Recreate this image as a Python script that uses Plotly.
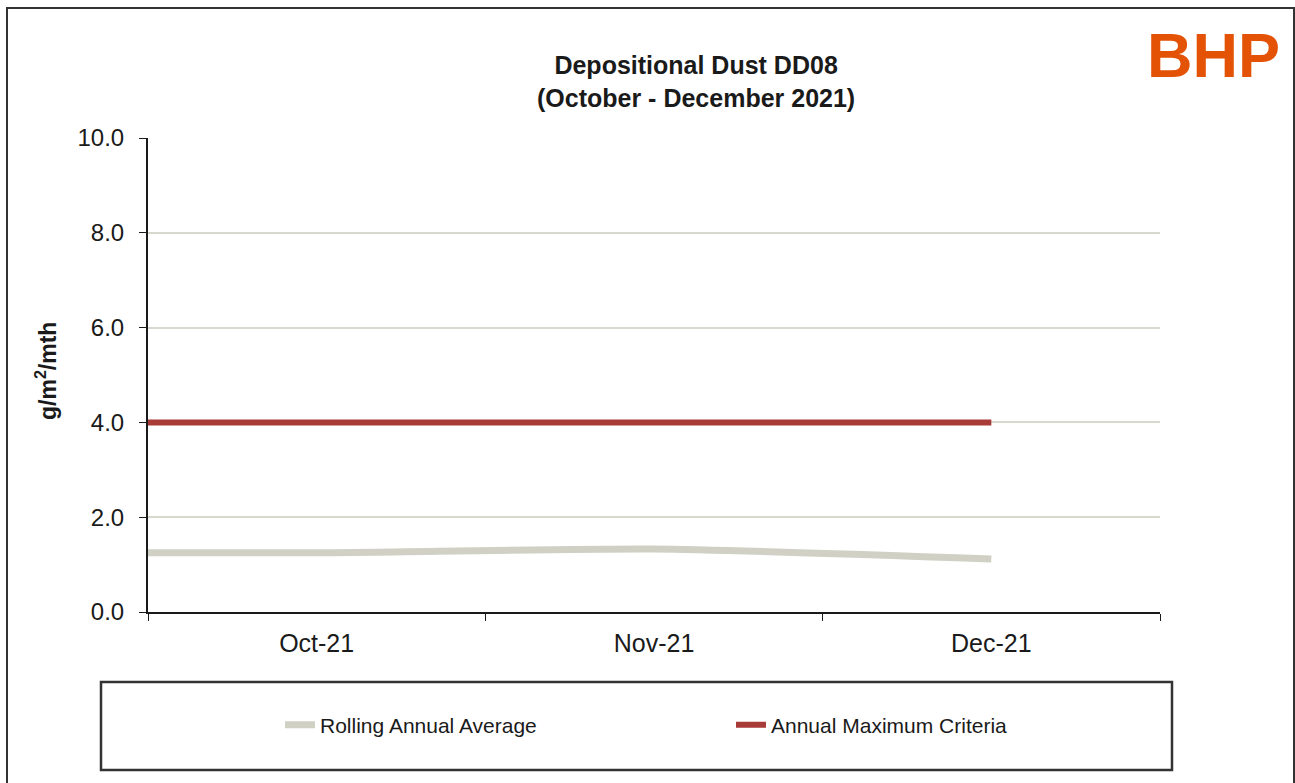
import plotly.graph_objects as go

# Monthly depositional dust results (g/m²/mth); Sep-21 lies just left of the visible window
months = ["Sep-21", "Oct-21", "Nov-21", "Dec-21"]
rolling_annual_average = [1.25, 1.25, 1.33, 1.12]
annual_maximum_criteria = [4.0, 4.0, 4.0, 4.0]

y_ticks = [0, 2, 4, 6, 8, 10]

W, H = 1295, 783
L, R, T, B = 148, 135, 138, 171
PW, PH = W - L - R, H - T - B


def px(x):
    return (x - L) / PW


def py(y):
    return (H - B - y) / PH


fig = go.Figure()
fig.add_trace(go.Scatter(
    x=months, y=rolling_annual_average, name="Rolling Annual Average",
    mode="lines", line=dict(color="#D0D1C4", width=7, shape="spline", smoothing=0.6),
))
fig.add_trace(go.Scatter(
    x=months, y=annual_maximum_criteria, name="Annual Maximum Criteria",
    mode="lines", line=dict(color="#A83A38", width=6),
))

fig.update_layout(
    width=W, height=H,
    margin=dict(l=L, r=R, t=T, b=B, pad=0),
    paper_bgcolor="white", plot_bgcolor="white",
    font=dict(family="Arial, Liberation Sans, sans-serif", color="#1a1a1a"),
    showlegend=True,
    legend=dict(
        orientation="h", x=px(280), y=py(725), xanchor="left", yanchor="middle",
        entrywidth=406, entrywidthmode="pixels",
        font=dict(size=21, color="#1a1a1a"),
        bgcolor="rgba(0,0,0,0)", itemwidth=30, tracegroupgap=0,
    ),
    xaxis=dict(
        type="category", categoryorder="array", categoryarray=months,
        range=[0.5, 3.5], tickson="boundaries", ticks="outside", ticklen=7,
        tickcolor="#1a1a1a", showline=True, linecolor="#1a1a1a", linewidth=2,
        showgrid=False, zeroline=False,
        tickfont=dict(size=25, color="#1a1a1a"), ticklabelstandoff=8,
    ),
    yaxis=dict(
        range=[0, 10], tickvals=y_ticks, tickformat=".1f", ticks="outside",
        ticklen=7, tickcolor="#1a1a1a", showline=True, linecolor="#1a1a1a",
        linewidth=2, showgrid=True, gridcolor="#D8D8CE", gridwidth=1.5,
        zeroline=False, tickfont=dict(size=24, color="#1a1a1a"),
        ticklabelstandoff=10,
    ),
    shapes=[
        # outer chart frame
        dict(type="rect", xref="paper", yref="paper", x0=px(7), x1=px(1294),
             y0=py(800), y1=py(8), line=dict(color="#333333", width=2)),
        # legend frame
        dict(type="rect", xref="paper", yref="paper", x0=px(101), x1=px(1172),
             y0=py(770), y1=py(682), line=dict(color="#333333", width=2.5)),
    ],
    annotations=[
        dict(text="<b>Depositional Dust DD08<br>(October - December 2021)</b>",
             xref="paper", yref="paper", x=px(696), y=py(81), xanchor="center",
             yanchor="middle", showarrow=False, align="center",
             font=dict(size=25, color="#1a1a1a")),
        dict(text="<b>g/m<sup>2</sup>/mth</b>", xref="paper", yref="paper",
             x=px(46), y=py(371), xanchor="center", yanchor="middle",
             textangle=-90, showarrow=False, font=dict(size=23, color="#1a1a1a")),
        dict(text="<b>BHP</b>", xref="paper", yref="paper", x=px(1213), y=py(55),
             xanchor="center", yanchor="middle", showarrow=False,
             font=dict(size=63, color="#E35205")),
    ],
)

fig.write_html("out.html")
